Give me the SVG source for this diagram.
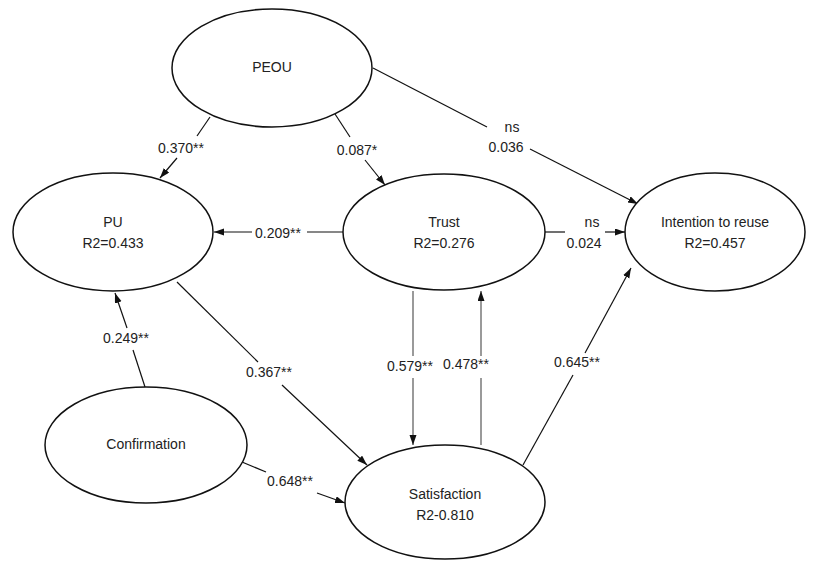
<svg xmlns="http://www.w3.org/2000/svg" width="815" height="561" viewBox="0 0 815 561">
<style>
.node ellipse{fill:#fff;stroke:#111;stroke-width:1.5}
text{font-family:"Liberation Sans",Arial,sans-serif;font-size:14px;fill:#222;text-anchor:middle}
.c line{stroke:#111;stroke-width:1.2}
.c line.g{stroke:#9a9a9a;stroke-width:2}
</style>
<defs>
<marker id="a" markerUnits="userSpaceOnUse" markerWidth="11" markerHeight="8" refX="10" refY="3.5" orient="auto">
<path d="M0,0 L10,3.5 L0,7 z" fill="#111"/>
</marker>
</defs>
<rect width="815" height="561" fill="#fff"/>
<g class="c" id="connectors">
<line x1="210" y1="117" x2="197" y2="136"/>
<line x1="177" y1="158" x2="160" y2="178" marker-end="url(#a)"/>
<line x1="335" y1="114" x2="350" y2="137"/>
<line x1="365" y1="160" x2="385" y2="185" marker-end="url(#a)"/>
<line x1="343" y1="232" x2="307" y2="232"/>
<line x1="252" y1="232" x2="214" y2="232" marker-end="url(#a)"/>
<line x1="373" y1="68" x2="487" y2="127"/>
<line x1="530" y1="149" x2="638" y2="204" marker-end="url(#a)"/>
<line x1="545" y1="232" x2="565" y2="232"/>
<line x1="605" y1="232" x2="625" y2="232" marker-end="url(#a)"/>
<line class="g" x1="413" y1="291" x2="413" y2="356"/>
<line class="g" x1="413" y1="378" x2="413" y2="445" marker-end="url(#a)"/>
<line class="g" x1="481" y1="445" x2="481" y2="378"/>
<line class="g" x1="481" y1="356" x2="481" y2="291" marker-end="url(#a)"/>
<line x1="523" y1="465" x2="573" y2="375"/>
<line x1="585" y1="353" x2="631" y2="268" marker-end="url(#a)"/>
<line x1="177" y1="282" x2="258" y2="362"/>
<line x1="282" y1="385" x2="367" y2="465" marker-end="url(#a)"/>
<line x1="145" y1="387" x2="133" y2="350"/>
<line x1="127" y1="328" x2="115" y2="293" marker-end="url(#a)"/>
<line x1="242" y1="462" x2="266" y2="472"/>
<line x1="317" y1="493" x2="345" y2="503" marker-end="url(#a)"/>
</g>
<g id="labels">
<text x="181" y="153">0.370**</text>
<text x="357" y="155">0.087*</text>
<text x="278" y="238">0.209**</text>
<text x="512" y="132">ns</text>
<text x="506" y="152">0.036</text>
<text x="592" y="227">ns</text>
<text x="584" y="248">0.024</text>
<text x="410" y="371">0.579**</text>
<text x="466" y="369">0.478**</text>
<text x="577" y="367">0.645**</text>
<text x="269" y="377">0.367**</text>
<text x="126" y="343">0.249**</text>
<text x="290" y="486">0.648**</text>
</g>
<g class="node" id="peou"><ellipse cx="272" cy="68" rx="100" ry="59"/><text x="272" y="72">PEOU</text></g>
<g class="node" id="pu"><ellipse cx="113" cy="232" rx="100" ry="59"/><text x="113" y="227">PU</text><text x="113" y="248">R2=0.433</text></g>
<g class="node" id="trust"><ellipse cx="444" cy="232" rx="101" ry="58"/><text x="444" y="227">Trust</text><text x="444" y="248">R2=0.276</text></g>
<g class="node" id="intention"><ellipse cx="715" cy="232" rx="90" ry="59"/><text x="715" y="227">Intention to reuse</text><text x="715" y="248">R2=0.457</text></g>
<g class="node" id="confirmation"><ellipse cx="146" cy="445" rx="101" ry="58"/><text x="146" y="449">Confirmation</text></g>
<g class="node" id="satisfaction"><ellipse cx="445" cy="502" rx="100" ry="57"/><text x="445" y="499">Satisfaction</text><text x="445" y="520">R2-0.810</text></g>
</svg>
